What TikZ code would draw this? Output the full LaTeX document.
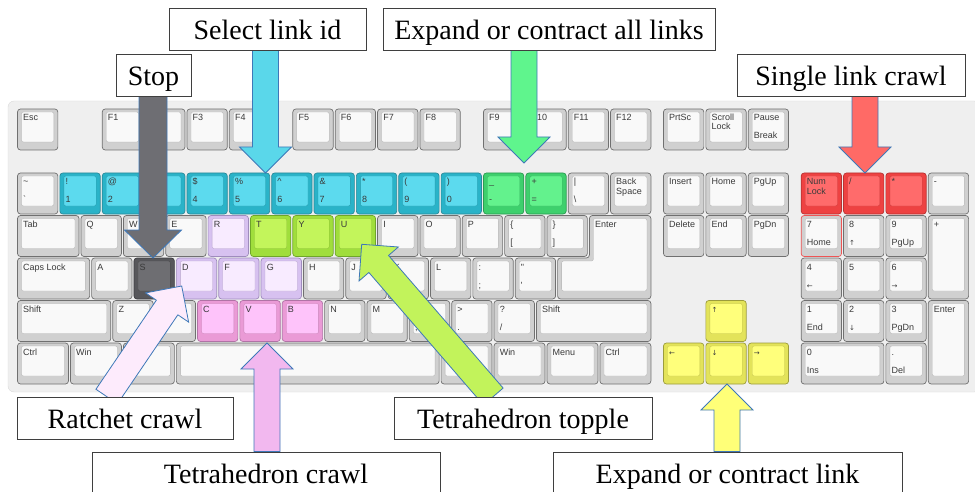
\documentclass[tikz,border=0pt]{standalone}
\usepackage{fontspec}
\usetikzlibrary{calc}

\newfontfamily\keysans{Liberation Sans}
\newfontfamily\keysym{DejaVu Sans}
\newfontfamily\boxserif{Liberation Serif}

\definecolor{kbback}{HTML}{EFEFEF}
\definecolor{kbedge}{HTML}{DADADA}
\definecolor{keytext}{HTML}{3A3A3A}
\definecolor{boxline}{HTML}{3F3F3F}
\definecolor{arrowline}{HTML}{3E78B8}
% key colours: base, face, line
\definecolor{plainbase}{HTML}{D0D0D0}\definecolor{plainface}{HTML}{F9F9F9}\definecolor{plainline}{HTML}{707070}
\definecolor{cyanbase}{HTML}{2AB3C8}\definecolor{cyanface}{HTML}{5CDAEE}\definecolor{cyanline}{HTML}{2A8A9A}
\definecolor{greenbase}{HTML}{3ED06D}\definecolor{greenface}{HTML}{63F28D}\definecolor{greenline}{HTML}{2C9A52}
\definecolor{limebase}{HTML}{A0DE3C}\definecolor{limeface}{HTML}{C3F55B}\definecolor{limeline}{HTML}{6FA52A}
\definecolor{lilacbase}{HTML}{D7C1F0}\definecolor{lilacface}{HTML}{F8EBFF}\definecolor{lilacline}{HTML}{9F8CBD}
\definecolor{pinkbase}{HTML}{EA9AD6}\definecolor{pinkface}{HTML}{FEC3FA}\definecolor{pinkline}{HTML}{B073A6}
\definecolor{darkbase}{HTML}{57575B}\definecolor{darkface}{HTML}{6E6E72}\definecolor{darkline}{HTML}{3E3E42}
\definecolor{redbase}{HTML}{EE4242}\definecolor{redface}{HTML}{FF6B6B}\definecolor{redline}{HTML}{B83232}
\definecolor{yellowbase}{HTML}{E3E35A}\definecolor{yellowface}{HTML}{FFFF7B}\definecolor{yellowline}{HTML}{9C9C3C}
\definecolor{sevenbase}{HTML}{D0D0D0}\definecolor{sevenface}{HTML}{F9F9F9}\definecolor{sevenline}{HTML}{EE5555}
% arrow colours
\definecolor{stopgrey}{HTML}{6E6E73}
\definecolor{selectcyan}{HTML}{5AD7EA}
\definecolor{allgreen}{HTML}{5FF58D}
\definecolor{singlered}{HTML}{FF6A66}
\definecolor{ratchetpink}{HTML}{FDEBFC}
\definecolor{crawlpink}{HTML}{F2B8EF}
\definecolor{topplelime}{HTML}{C2F35B}
\definecolor{linkyellow}{HTML}{FFFF78}

\pgfdeclarelayer{front}
\pgfsetlayers{main,front}

\tikzset{
  keybody/.style={rounded corners=3pt, line width=0.7pt},
  keyface/.style={rounded corners=2pt, line width=0.3pt},
  keylabel/.style={inner sep=0pt, anchor=base west, text=keytext,
    font=\keysans\fontsize{9}{10}\selectfont},
  callbox/.style={draw=boxline, fill=white, line width=0.9pt, inner sep=0pt,
    minimum height=42pt, text height=21pt, text depth=0pt,
    font=\boxserif\fontsize{28}{32}\selectfont},
  callout/.style={draw=arrowline, line width=0.8pt, line join=miter},
}

\newcounter{keyno}
% key: [height] col, top, width, colour, line 1, line 2, bottom line
\newcommand{\kbkey}[8][41]{%
  \stepcounter{keyno}%
  \pgfmathsetmacro{\kxa}{17+#2*42.36+0.5}%
  \pgfmathsetmacro{\kxb}{17+(#2+#4)*42.36-1.5}%
  \pgfmathsetmacro{\kyb}{#3+#1}%
  \filldraw[keybody, fill=#5base, draw=#5line] (\kxa,#3) rectangle (\kxb,\kyb);
  \filldraw[keyface, fill=#5face, draw=#5base!85!black] (\kxa+4,#3+3) rectangle (\kxb-4,\kyb-8);
  \if\relax\detokenize{#6}\relax\else\node[keylabel] (key\arabic{keyno}a) at (\kxa+5.5,#3+12) {#6};\fi
  \if\relax\detokenize{#7}\relax\else\node[keylabel] (key\arabic{keyno}b) at (\kxa+5.5,#3+21) {#7};\fi
  \if\relax\detokenize{#8}\relax\else\node[keylabel] (key\arabic{keyno}c) at (\kxa+5.5,#3+30) {#8};\fi
}
\newcommand{\kbarrow}[1]{{\keysym\fontsize{7}{8}\selectfont#1}}

% block arrow from foot to tip
\def\shaftw{13pt}\def\headw{26pt}\def\headl{26pt}
\newcommand{\blockarrow}[3]{%
  \coordinate (hd) at ($(#2)!\headl!(#1)$);
  \filldraw[callout, fill=#3]
    ($(#1)!\shaftw!90:(#2)$) -- ($(hd)!\shaftw!90:(#2)$) -- ($(hd)!\headw!90:(#2)$) -- (#2)
    -- ($(hd)!\headw!-90:(#2)$) -- ($(hd)!\shaftw!-90:(#2)$) -- ($(#1)!\shaftw!-90:(#2)$) -- cycle;
}

\begin{document}
\begin{tikzpicture}[x=1pt,y=-1pt]
\useasboundingbox (0,0) rectangle (975,492);

% \draw keyboard
\filldraw[fill=kbback, draw=kbedge, rounded corners=6pt] (8,101) rectangle (980,392);

% \draw function row
\kbkey{0}{109}{1}{plain}{Esc}{}{}
\kbkey{3}{109}{1}{plain}{}{}{}
\foreach \c/\t in {2/F1,4/F3,5/F4,6.5/F5,7.5/F6,8.5/F7,9.5/F8,11/F9,12/F10,13/F11,14/F12}
  {\kbkey{\c}{109}{1}{plain}{\t}{}{}}
\kbkey{15.25}{109}{1}{plain}{PrtSc}{}{}
\kbkey{16.25}{109}{1}{plain}{Scroll}{Lock}{}
\kbkey{17.25}{109}{1}{plain}{Pause}{}{Break}

% \draw number row
\kbkey{0}{173}{1}{plain}{\textasciitilde}{}{\textasciigrave}
\kbkey{1}{173}{1}{cyan}{!}{}{1}
\kbkey{2}{173}{1}{cyan}{@}{}{2}
\kbkey{3}{173}{1}{cyan}{}{}{}
\kbkey{4}{173}{1}{cyan}{\$}{}{4}
\kbkey{5}{173}{1}{cyan}{\%}{}{5}
\kbkey{6}{173}{1}{cyan}{\textasciicircum}{}{6}
\kbkey{7}{173}{1}{cyan}{\&}{}{7}
\kbkey{8}{173}{1}{cyan}{*}{}{8}
\kbkey{9}{173}{1}{cyan}{(}{}{9}
\kbkey{10}{173}{1}{cyan}{)}{}{0}
\kbkey{11}{173}{1}{green}{\_}{}{-}
\kbkey{12}{173}{1}{green}{+}{}{=}
\kbkey{13}{173}{1}{plain}{|}{}{\textbackslash}
\kbkey{14}{173}{1}{plain}{Back}{Space}{}
\kbkey{15.25}{173}{1}{plain}{Insert}{}{}
\kbkey{16.25}{173}{1}{plain}{Home}{}{}
\kbkey{17.25}{173}{1}{plain}{PgUp}{}{}
\kbkey{18.5}{173}{1}{red}{Num}{Lock}{}
\kbkey{19.5}{173}{1}{red}{/}{}{}
\kbkey{20.5}{173}{1}{red}{*}{}{}
\kbkey{21.5}{173}{1}{plain}{-}{}{}

% \draw tab row
\kbkey{0}{215.5}{1.5}{plain}{Tab}{}{}
\foreach \c/\t in {1.5/Q,2.5/W,3.5/E,8.5/I,9.5/O,10.5/P}
  {\kbkey{\c}{215.5}{1}{plain}{\t}{}{}}
\kbkey{4.5}{215.5}{1}{lilac}{R}{}{}
\foreach \c/\t in {5.5/T,6.5/Y,7.5/U}
  {\kbkey{\c}{215.5}{1}{lime}{\t}{}{}}
\kbkey{11.5}{215.5}{1}{plain}{\{}{}{[}
\kbkey{12.5}{215.5}{1}{plain}{\}}{}{]}
\kbkey{15.25}{215.5}{1}{plain}{Delete}{}{}
\kbkey{16.25}{215.5}{1}{plain}{End}{}{}
\kbkey{17.25}{215.5}{1}{plain}{PgDn}{}{}
\kbkey{18.5}{215.5}{1}{seven}{7}{}{Home}
\kbkey{19.5}{215.5}{1}{plain}{8}{}{\kbarrow{↑}}
\kbkey{20.5}{215.5}{1}{plain}{9}{}{PgUp}
\kbkey[83.5]{21.5}{215.5}{1}{plain}{+}{}{}

% \draw enter key
\filldraw[keybody, fill=plainbase, draw=plainline]
  (589.4,215.5) -- (650.9,215.5) -- (650.9,299) -- (557.6,299) -- (557.6,258) -- (589.4,258) -- cycle;
\filldraw[keyface, fill=plainface, draw=plainbase!85!black]
  (593.4,218.5) -- (646.9,218.5) -- (646.9,291) -- (561.6,291) -- (561.6,261) -- (593.4,261) -- cycle;
\node[keylabel] (enterlabel) at (594.9,227.5) {Enter};

% \draw caps row
\kbkey{0}{258}{1.75}{plain}{Caps Lock}{}{}
\kbkey{1.75}{258}{1}{plain}{A}{}{}
\kbkey{2.75}{258}{1}{dark}{S}{}{}
\foreach \c/\t in {3.75/D,4.75/F,5.75/G}
  {\kbkey{\c}{258}{1}{lilac}{\t}{}{}}
\foreach \c/\t in {6.75/H,7.75/J,8.75/K,9.75/L}
  {\kbkey{\c}{258}{1}{plain}{\t}{}{}}
\kbkey{10.75}{258}{1}{plain}{:}{}{;}
\kbkey{11.75}{258}{1}{plain}{"}{}{'}
\kbkey{18.5}{258}{1}{plain}{4}{}{\kbarrow{←}}
\kbkey{19.5}{258}{1}{plain}{5}{}{}
\kbkey{20.5}{258}{1}{plain}{6}{}{\kbarrow{→}}

% \draw shift row
\kbkey{0}{300.5}{2.25}{plain}{Shift}{}{}
\kbkey{2.25}{300.5}{1}{plain}{Z}{}{}
\kbkey{3.25}{300.5}{1}{plain}{}{}{}
\foreach \c/\t in {4.25/C,5.25/V,6.25/B}
  {\kbkey{\c}{300.5}{1}{pink}{\t}{}{}}
\kbkey{7.25}{300.5}{1}{plain}{N}{}{}
\kbkey{8.25}{300.5}{1}{plain}{M}{}{}
\kbkey{9.25}{300.5}{1}{plain}{}{}{,}
\kbkey{10.25}{300.5}{1}{plain}{>}{}{.}
\kbkey{11.25}{300.5}{1}{plain}{?}{}{/}
\kbkey{12.25}{300.5}{2.75}{plain}{Shift}{}{}
\kbkey{16.25}{300.5}{1}{yellow}{\kbarrow{↑}}{}{}
\kbkey{18.5}{300.5}{1}{plain}{1}{}{End}
\kbkey{19.5}{300.5}{1}{plain}{2}{}{\kbarrow{↓}}
\kbkey{20.5}{300.5}{1}{plain}{3}{}{PgDn}
\kbkey[83.5]{21.5}{300.5}{1}{plain}{Enter}{}{}

% \draw bottom row
\kbkey{0}{343}{1.25}{plain}{Ctrl}{}{}
\kbkey{1.25}{343}{1.25}{plain}{Win}{}{}
\kbkey{2.5}{343}{1.25}{plain}{}{}{}
\kbkey{3.75}{343}{6.25}{plain}{}{}{}
\kbkey{10}{343}{1.25}{plain}{}{}{}
\kbkey{11.25}{343}{1.25}{plain}{Win}{}{}
\kbkey{12.5}{343}{1.25}{plain}{Menu}{}{}
\kbkey{13.75}{343}{1.25}{plain}{Ctrl}{}{}
\kbkey{15.25}{343}{1}{yellow}{\kbarrow{←}}{}{}
\kbkey{16.25}{343}{1}{yellow}{\kbarrow{↓}}{}{}
\kbkey{17.25}{343}{1}{yellow}{\kbarrow{→}}{}{}
\kbkey{18.5}{343}{2}{plain}{0}{}{Ins}
\kbkey{20.5}{343}{1}{plain}{.}{}{Del}

% \draw label boxes
\begin{pgfonlayer}{front}
\node[callbox, minimum width=75pt] (stop) at (153.5,75) {Stop};
\node[callbox, minimum width=197pt] (select) at (267.5,29) {Select link id};
\node[callbox, minimum width=332pt] (all) at (549,29) {Expand or contract all links};
\node[callbox, minimum width=228pt] (single) at (851,75) {Single link crawl};
\node[callbox, minimum width=216pt] (ratchet) at (125,418) {Ratchet crawl};
\node[callbox, minimum width=258pt] (topple) at (523,418) {Tetrahedron topple};
\node[callbox, minimum width=348pt] (crawl) at (266,473) {Tetrahedron crawl};
\node[callbox, minimum width=349pt] (link) at (727.5,473) {Expand or contract link};
\end{pgfonlayer}

% arrow ends
\coordinate (stoptip) at (153,258);
\coordinate (stopfoot) at (stoptip |- stop.south);
\coordinate (selecttip) at (265.5,173);
\coordinate (selectfoot) at (selecttip |- select.south);
\coordinate (alltip) at (524,163);
\coordinate (allfoot) at (alltip |- all.south);
\coordinate (singletip) at (865,173);
\coordinate (singlefoot) at (singletip |- single.south);
\coordinate (ratchettip) at (181.7,286);
\coordinate (ratchetfoot) at ([xshift=-18.3pt]ratchet.north);
\coordinate (crawltip) at (267,343);
\coordinate (crawlfoot) at (crawltip |- crawl.north);
\coordinate (toppletip) at (361.7,244.3);
\coordinate (topplefoot) at ([xshift=-29.7pt]topple.north);
\coordinate (linktip) at (727,384);
\coordinate (linkfoot) at (linktip |- link.north);

% \draw arrows
\begin{scope}
\def\shaftw{14pt}\def\headw{28.5pt}\def\headl{28pt}
\blockarrow{stopfoot}{stoptip}{stopgrey}
\end{scope}
\blockarrow{selectfoot}{selecttip}{selectcyan}
\blockarrow{allfoot}{alltip}{allgreen}
\blockarrow{singlefoot}{singletip}{singlered}
\blockarrow{ratchetfoot}{ratchettip}{ratchetpink}
\blockarrow{crawlfoot}{crawltip}{crawlpink}
\blockarrow{topplefoot}{toppletip}{topplelime}
\blockarrow{linkfoot}{linktip}{linkyellow}

\end{tikzpicture}
\end{document}
